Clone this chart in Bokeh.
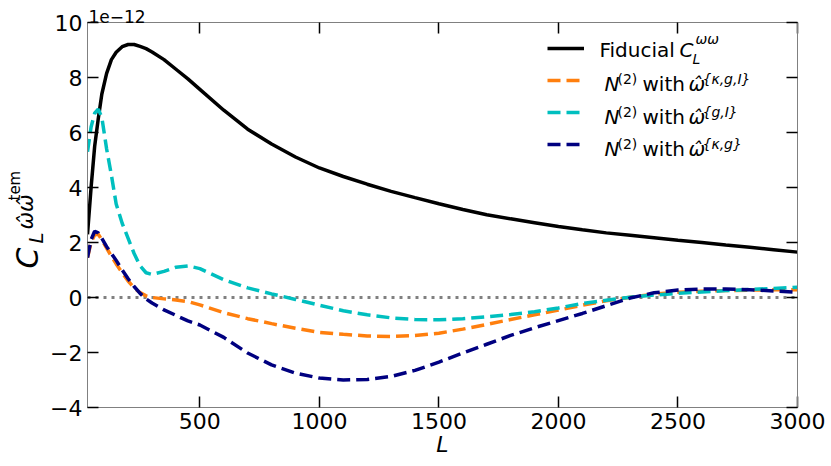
import math
from bokeh.plotting import figure
from bokeh.layouts import row
from bokeh.models import (Range1d, FixedTicker, LinearAxis, Label, Legend, LegendItem,
                          Span, CustomJSTickFormatter)
from bokeh.embed import file_html
from bokeh.resources import INLINE

# ---------------- data (values in units of 1e-12) ----------------
L = [30, 45, 60, 75, 90, 110, 130, 150, 175, 200, 225, 250, 275, 300, 350, 400, 450, 500,
     600, 700, 800, 900, 1000, 1100, 1200, 1300, 1400, 1500, 1600, 1700, 1800, 1900, 2000,
     2100, 2200, 2300, 2400, 2500, 2600, 2700, 2800, 2900, 3000]

fiducial = [2.3, 4.0, 5.5, 6.5, 7.4, 8.15, 8.65, 8.92, 9.12, 9.2, 9.2, 9.13, 9.05, 8.93, 8.65,
            8.3, 7.95, 7.57, 6.81, 6.12, 5.58, 5.11, 4.71, 4.40, 4.12, 3.86, 3.63, 3.41, 3.2, 3.01,
            2.86, 2.72, 2.58, 2.46, 2.35, 2.26, 2.17, 2.08, 2.0, 1.91, 1.83, 1.74, 1.65]

n2_kgI = [1.45, 2.0, 2.28, 2.3, 2.1, 1.8, 1.5, 1.22, 0.9, 0.6, 0.35, 0.18, 0.06, 0.0, -0.05,
          -0.09, -0.15, -0.27, -0.55, -0.77, -0.95, -1.12, -1.27, -1.34, -1.4, -1.42, -1.38,
          -1.3, -1.15, -0.98, -0.8, -0.63, -0.46, -0.28, -0.12, 0.01, 0.12, 0.19, 0.23, 0.25,
          0.27, 0.28, 0.28]

n2_gI = [5.3, 6.2, 6.7, 6.85, 6.55, 5.4, 4.45, 3.4, 2.7, 2.15, 1.6, 1.15, 0.9, 0.84, 0.95,
         1.1, 1.15, 1.05, 0.65, 0.35, 0.13, -0.07, -0.28, -0.48, -0.63, -0.74, -0.8, -0.81,
         -0.77, -0.7, -0.62, -0.52, -0.38, -0.22, -0.1, 0.01, 0.09, 0.15, 0.2, 0.25, 0.29,
         0.33, 0.37]

n2_kg = [1.45, 2.1, 2.41, 2.35, 2.15, 1.85, 1.6, 1.35, 1.0, 0.68, 0.4, 0.15, -0.05, -0.2,
         -0.45, -0.65, -0.85, -1.0, -1.45, -2.02, -2.45, -2.75, -2.93, -3.0, -2.98, -2.87,
         -2.65, -2.35, -2.02, -1.7, -1.38, -1.1, -0.84, -0.58, -0.3, -0.02, 0.17, 0.27, 0.31,
         0.31, 0.28, 0.24, 0.19]

X_TICKS = [500, 1000, 1500, 2000, 2500, 3000]
X_TICK_LABELS = ["500", "1000", "1500", "2000", "2500", "3000"]
Y_TICKS = [-4, -2, 0, 2, 4, 6, 8, 10]
Y_TICK_LABELS = ["\u22124", "\u22122", "0", "2", "4", "6", "8", "10"]
OFFSET_TEXT = "1e\u221212"
X_LABEL = "L"

FONT = "DejaVu Sans"
LEFT_W = 47
MID = 0.346  # distance (in em) between text-box centre and baseline

# ---------------- main figure ----------------
p = figure(width=831 - LEFT_W, height=466, output_backend="svg", toolbar_location=None,
           x_range=Range1d(30, 3000), y_range=Range1d(-4, 10),
           min_border_left=85 - LEFT_W, min_border_right=34, min_border_top=22,
           min_border_bottom=59)
p.background_fill_color = "white"
p.border_fill_color = "white"
p.outline_line_color = "#808080"
p.outline_line_width = 1
p.grid.visible = False

p.title.text = OFFSET_TEXT
p.title.align = "left"
p.title.offset = 1
p.title.standoff = 0
p.title.text_font = FONT
p.title.text_font_size = "17px"
p.title.text_font_style = "normal"
p.title.text_color = "black"

xt = FixedTicker(ticks=X_TICKS)
yt = FixedTicker(ticks=Y_TICKS)
p.xaxis.ticker = xt
p.yaxis.ticker = yt
p.xaxis.major_label_overrides = dict(zip(X_TICKS, X_TICK_LABELS))
p.yaxis.major_label_overrides = dict(zip(Y_TICKS, Y_TICK_LABELS))


def style_axis(ax):
    ax.major_tick_in = 11
    ax.major_tick_out = 0
    ax.minor_tick_line_color = None
    ax.major_tick_line_color = "black"
    ax.major_tick_line_width = 1.5
    ax.axis_line_color = "#808080"
    ax.axis_line_width = 1
    ax.major_label_text_font = FONT
    ax.major_label_text_font_size = "22px"
    ax.major_label_text_color = "black"
    ax.major_label_standoff = 5


style_axis(p.xaxis[0])
style_axis(p.yaxis[0])
p.xaxis.axis_label = X_LABEL
p.xaxis.axis_label_text_font = FONT
p.xaxis.axis_label_text_font_size = "22px"
p.xaxis.axis_label_text_font_style = "italic"
p.xaxis.axis_label_text_color = "black"
p.xaxis.axis_label_standoff = 0

blank = CustomJSTickFormatter(code="return ''")
top_ax = LinearAxis(ticker=xt, formatter=blank)
right_ax = LinearAxis(ticker=yt, formatter=blank)
for ax in (top_ax, right_ax):
    style_axis(ax)
    ax.major_label_standoff = 0
    ax.major_label_text_font_size = "0px"
p.add_layout(top_ax, "above")
p.add_layout(right_ax, "right")

# zero line
p.add_layout(Span(location=0, dimension="width", line_color="#808080", line_width=3,
                  line_dash="3 5", level="underlay"))

r_fid = p.line(L, fiducial, line_color="black", line_width=3.5)
r_kgI = p.line(L, n2_kgI, line_color="#ff7f0e", line_width=3.5, line_dash="13 6")
r_gI = p.line(L, n2_gI, line_color="#00bfbf", line_width=3.5, line_dash="13 6")
r_kg = p.line(L, n2_kg, line_color="#000080", line_width=3.5, line_dash="13 6")

legend = Legend(items=[LegendItem(label=" ", renderers=[r]) for r in (r_fid, r_kgI, r_gI, r_kg)],
                location=(460, 253), glyph_width=37, glyph_height=20, label_height=20,
                label_width=0, spacing=12, padding=0, margin=0, label_standoff=0,
                border_line_color=None, background_fill_alpha=0)
p.add_layout(legend)


def lab(fig, text, x, base, size, italic=False, rotated=False):
    """Place a text piece so that its baseline is at `base` (screen px from frame edge)."""
    shift = MID * size
    if rotated:
        kw = dict(x=base - shift, y=x, angle=math.pi / 2)
    else:
        kw = dict(x=x, y=base + shift, angle=0.0)
    fig.add_layout(Label(x_units="screen", y_units="screen", text=text,
                         text_font=FONT, text_font_size=f"{size}px",
                         text_font_style="italic" if italic else "normal",
                         text_color="black", text_align="left", text_baseline="alphabetic",
                         angle_units="rad", **kw))


# legend texts (rich text made of pieces); baselines measured from the frame bottom
lab(p, "Fiducial", 512, 350.3, 20)
lab(p, "C", 592, 350.3, 20, italic=True)
lab(p, "\u03c9\u03c9", 608, 363.7, 14, italic=True)
lab(p, "L", 605, 343.7, 14, italic=True)

rows = [(317.0, "{\u03ba,g,I}"), (283.7, "{g,I}"), (252.0, "{\u03ba,g}")]
for yb, sup in rows:
    lab(p, "N", 517, yb, 20, italic=True)
    lab(p, "(2)", 530, yb + 7, 14)
    lab(p, "with", 555, yb, 20)
    lab(p, "\u03c9\u0302", 601, yb, 20, italic=True)
    lab(p, sup, 615, yb + 7, 14, italic=True)

# ---------------- y label strip ----------------
lp = figure(width=LEFT_W, height=466, output_backend="svg", toolbar_location=None,
            x_range=Range1d(0, 1), y_range=Range1d(0, 1),
            x_axis_location=None, y_axis_location=None, min_border=0)
lp.outline_line_color = None
lp.background_fill_color = "white"
lp.border_fill_color = "white"
lp.grid.visible = False

# (start position along the label measured from the frame bottom, baseline x)
lab(lp, "C", 139, 37, 30, italic=True, rotated=True)
lab(lp, "L", 164, 42, 20, italic=True, rotated=True)
lab(lp, "\u03c9\u0302\u03c9\u0302", 178, 33, 21, italic=True, rotated=True)
lab(lp, "tem", 207, 20, 15, rotated=True)

layout = row(lp, p, spacing=0)
open("out.html", "w").write(file_html(layout, INLINE))
